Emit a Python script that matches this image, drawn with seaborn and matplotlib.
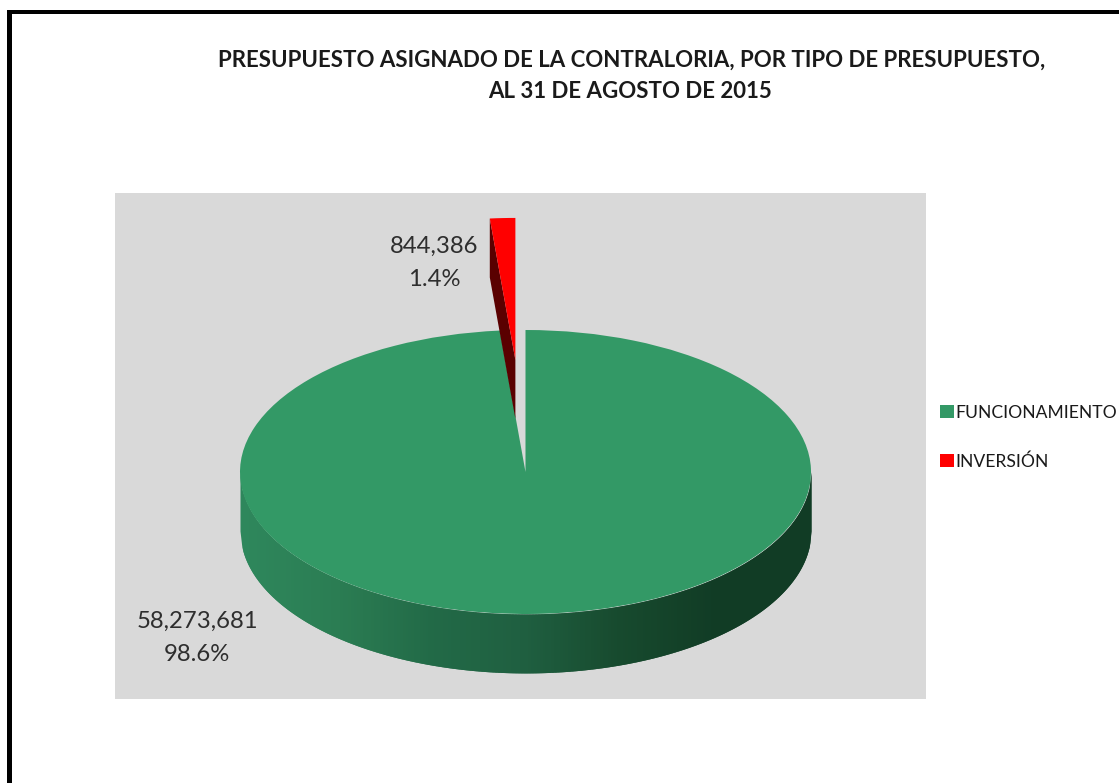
"""Presupuesto asignado: pie with a hand-built 3D look."""
import numpy as np
import matplotlib
matplotlib.use("Agg")
import matplotlib.pyplot as plt
import seaborn as sns
from matplotlib.patches import Rectangle


# Data.
categories = ["FUNCIONAMIENTO", "INVERSIÓN"]
amounts = [58273681, 844386]
title_lines = ["PRESUPUESTO ASIGNADO DE LA CONTRALORIA, POR TIPO DE PRESUPUESTO,",
               "AL 31 DE AGOSTO DE 2015"]

W, H = 1119, 783
top_green = "#339966"
top_red = "#ff0000"
side_red = "#5a0000"
panel_grey = "#d9d9d9"
side_stops = ["#2e875c", "#2b7d53", "#226a47", "#1f5f40", "#174a2e", "#113c25", "#113c25"]
depth = 0.415
explode_red = 0.79

sns.set_theme(style="white")
plt.rcParams["font.family"] = ["Lato", "DejaVu Sans"]


def px(x, y):
    # Pixel position in the image to figure fraction.
    return x / W, 1 - y / H


fig = plt.figure(figsize=(W / 100, H / 100), dpi=100, facecolor="white")

# Axes covers the grey panel, one data unit is one pie radius.
left, top = px(115, 193)
right, bottom = px(926, 699)
ax = fig.add_axes([left, bottom, right - left, top - bottom])

wedges, _ = ax.pie(amounts, colors=[top_green, top_red], startangle=90, counterclock=False,
                   explode=[0, explode_red], radius=1, center=(0, 0),
                   wedgeprops={"linewidth": 0})
wedges[0].set_zorder(3)
wedges[1].set_zorder(5)
ax.set_aspect("auto")
ax.set_xlim((115 - 525.5) / 285.5, (926 - 525.5) / 285.5)
ax.set_ylim((472 - 699) / 142, (472 - 193) / 142)
ax.set_frame_on(True)
ax.set_facecolor(panel_grey)
sns.despine(ax=ax, left=True, bottom=True)
ax.set_xticks([])
ax.set_yticks([])

# Front wall of the green slice, strips overlap the next one so no seams show.
n_strips = 200
edges = np.linspace(-1, 1, n_strips + 1)
strip_colors = sns.blend_palette(side_stops, n_colors=n_strips)
for i in range(n_strips):
    xs = np.linspace(edges[i], edges[min(i + 2, n_strips)], 4)
    rim = -np.sqrt(np.clip(1 - xs ** 2, 0, None))
    ax.fill_between(xs, rim, rim - depth, color=strip_colors[i], linewidth=0, zorder=2 + i / 1000)

# Cut face of the pulled out red slice, left edge of the wedge.
w = wedges[1]
cx, cy = w.center
rim_angle = np.deg2rad(w.theta2)
rim_x = cx + np.cos(rim_angle)
rim_y = cy + np.sin(rim_angle)
ax.fill([rim_x, cx, cx, rim_x], [rim_y, cy, cy - depth, rim_y - depth],
        color=side_red, linewidth=0, zorder=4)

# Value labels.
total = sum(amounts)
label_spots = [(197, 638), (434, 263)]
for value, (x, y) in zip(amounts, label_spots):
    fx, fy = px(x, y)
    fig.text(fx, fy, f"{value:,}\n{value / total:.1%}", ha="center", va="center",
             fontsize=17.2, color="#2e2e2e", linespacing=1.68)

# Title.
for line, x, y in zip(title_lines, [632, 630], [60, 92]):
    fx, fy = px(x, y)
    fig.text(fx, fy, line, ha="center", va="center", fontsize=16.05,
             fontweight="bold", color="#1a1a1a")

# Legend.
fig.legend(wedges, categories, loc="upper left", bbox_to_anchor=px(940, 405), frameon=False,
           fontsize=12.6, handlelength=0.78, handleheight=0.78, handletextpad=0.1,
           labelspacing=1.84, borderpad=0, borderaxespad=0, labelcolor="#1a1a1a")

# Thick black frame, only left and top sides show.
x0, y0 = px(7, 783)
x1, y1 = px(12, 10)
fig.add_artist(Rectangle((x0, y0), x1 - x0, y1 - y0, transform=fig.transFigure, color="black", lw=0))
x0, y0 = px(7, 14)
x1, y1 = px(1119, 10)
fig.add_artist(Rectangle((x0, y0), x1 - x0, y1 - y0, transform=fig.transFigure, color="black", lw=0))

fig.savefig("out.png", dpi=100)
